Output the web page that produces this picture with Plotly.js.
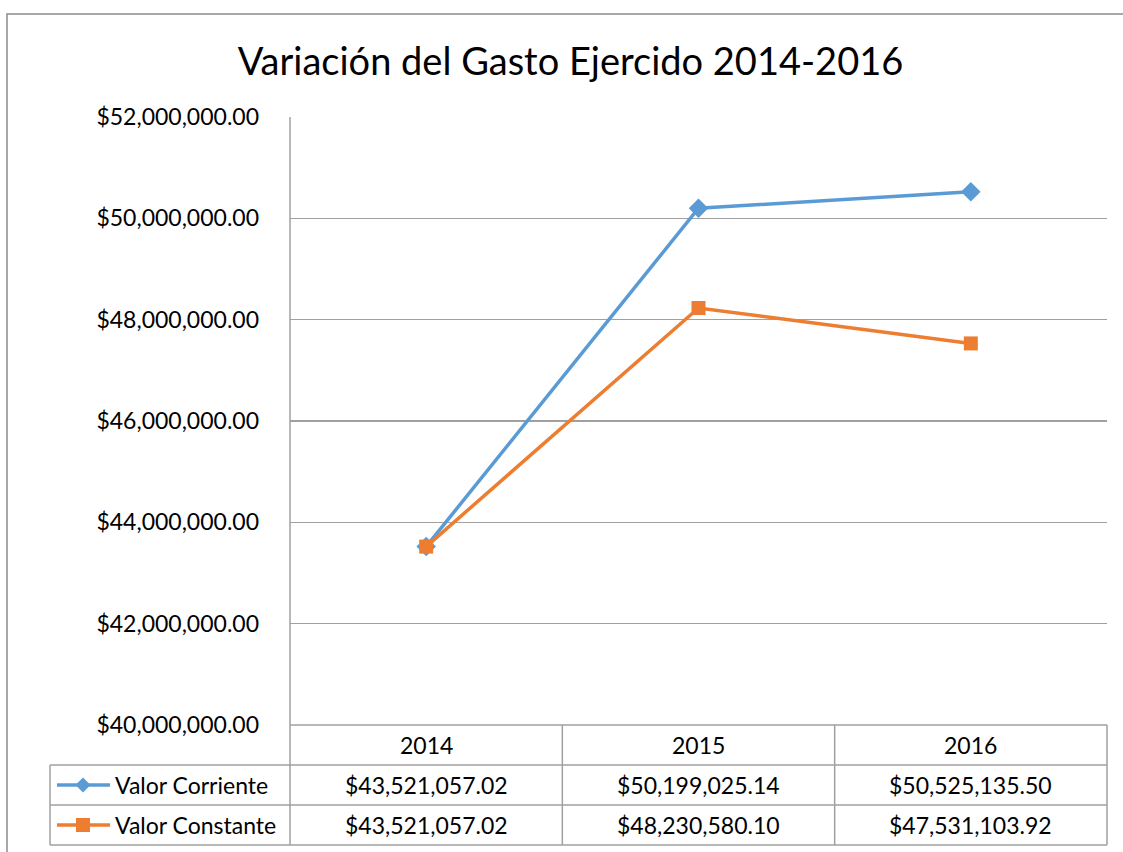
<!DOCTYPE html>
<html>
<head>
<meta charset="utf-8">
<script src="https://cdn.plot.ly/plotly-3.0.1.min.js"></script>
<style>html,body{margin:0;padding:0;background:#fff;}#chart{width:1123px;height:852px;}</style>
</head>
<body>
<div id="chart"></div>
<script>
const years = ['2014', '2015', '2016'];
const seriesNames = ['Valor Corriente', 'Valor Constante'];
const valorCorriente = [43521057.02, 50199025.14, 50525135.50];
const valorConstante = [43521057.02, 48230580.10, 47531103.92];
const yTicks = [40000000, 42000000, 44000000, 46000000, 48000000, 50000000, 52000000];

const W = 1123, H = 852;
const M = {l: 290, r: 16, t: 117, b: 127};
const pw = W - M.l - M.r, ph = H - M.t - M.b;
const px = v => (v - M.l) / pw;
const py = v => (H - M.b - v) / ph;

const FONT = 'Lato, "Open Sans", sans-serif';
const blue = '#5b9bd5', orange = '#ed7d31', grid = '#a0a0a0';
const TXT = 23;

const fmt = v => '$' + v.toLocaleString('en-US', {minimumFractionDigits: 2, maximumFractionDigits: 2});

const traces = [
  {x: years, y: valorCorriente, name: seriesNames[0], type: 'scatter', mode: 'lines+markers',
   line: {color: blue, width: 3.5}, marker: {symbol: 'diamond', size: 15, color: blue}},
  {x: years, y: valorConstante, name: seriesNames[1], type: 'scatter', mode: 'lines+markers',
   line: {color: orange, width: 3.5}, marker: {symbol: 'square', size: 14, color: orange}}
];

const rowH = 40;
const shapes = [];
const ann = [];
const line = (x0, y0, x1, y1, color, w) => shapes.push({type: 'line', xref: 'paper', yref: 'paper',
  x0: px(x0), y0: py(y0), x1: px(x1), y1: py(y1), line: {color: color, width: w}});

// outer frame
shapes.push({type: 'rect', xref: 'paper', yref: 'paper', x0: px(7), y0: py(14), x1: px(1140), y1: py(870),
  line: {color: '#8c8c8c', width: 1.5}, fillcolor: 'rgba(0,0,0,0)'});

// table grid
const tTop = H - M.b;
line(M.l, tTop, W - M.r, tTop, grid, 1.5);
line(M.l, tTop + rowH, W - M.r, tTop + rowH, grid, 1.5);
line(50, tTop + rowH, M.l, tTop + rowH, grid, 1.5);
line(50, tTop + 2 * rowH, W - M.r, tTop + 2 * rowH, grid, 1.5);
line(50, tTop + 3 * rowH, W - M.r, tTop + 3 * rowH, grid, 1.5);
line(50, tTop + rowH, 50, tTop + 3 * rowH, grid, 1.5);
line(M.l, M.t, M.l, tTop + 3 * rowH, grid, 1.5);
line(W - M.r, tTop, W - M.r, tTop + 3 * rowH, grid, 1.5);
for (let i = 0; i < years.length - 1; i++) {
  shapes.push({type: 'line', xref: 'x', yref: 'paper', x0: i + 0.5, x1: i + 0.5,
    y0: py(tTop), y1: py(tTop + 3 * rowH), line: {color: grid, width: 1.5}});
}

// header and values
const allSeries = [valorCorriente, valorConstante];
years.forEach((yr, i) => {
  ann.push({xref: 'x', yref: 'paper', x: i, y: py(tTop + rowH / 2), text: yr, showarrow: false,
    font: {family: FONT, size: TXT, color: '#000'}, xanchor: 'center', yanchor: 'middle'});
  allSeries.forEach((s, j) => {
    ann.push({xref: 'x', yref: 'paper', x: i, y: py(tTop + rowH * (j + 1.5)), text: fmt(s[i]), showarrow: false,
      font: {family: FONT, size: TXT, color: '#000'}, xanchor: 'center', yanchor: 'middle'});
  });
});

// legend keys
const colors = [blue, orange];
seriesNames.forEach((n, j) => {
  const cy = tTop + rowH * (j + 1.5);
  line(57, cy, 110, cy, colors[j], 3.5);
  const cx = 83, r = 7.5;
  let path;
  if (j === 0) {
    path = `M ${px(cx)} ${py(cy - r)} L ${px(cx + r)} ${py(cy)} L ${px(cx)} ${py(cy + r)} L ${px(cx - r)} ${py(cy)} Z`;
  } else {
    const s = 7;
    path = `M ${px(cx - s)} ${py(cy - s)} L ${px(cx + s)} ${py(cy - s)} L ${px(cx + s)} ${py(cy + s)} L ${px(cx - s)} ${py(cy + s)} Z`;
  }
  shapes.push({type: 'path', xref: 'paper', yref: 'paper', path: path, fillcolor: colors[j], line: {width: 0}});
  ann.push({xref: 'paper', yref: 'paper', x: px(113), y: py(cy), text: n, showarrow: false,
    font: {family: FONT, size: TXT, color: '#000'}, xanchor: 'left', yanchor: 'middle'});
});

const layout = {
  width: W, height: H,
  margin: M,
  paper_bgcolor: '#fff', plot_bgcolor: '#fff',
  showlegend: false,
  title: {text: 'Variación del Gasto Ejercido 2014-2016', x: 0.508, xanchor: 'center', y: 1 - 62 / H, yanchor: 'middle',
    font: {family: FONT, size: 38, color: '#000'}},
  xaxis: {type: 'category', range: [-0.5, 2.5], showticklabels: false, showgrid: false, zeroline: false,
    showline: false, ticks: ''},
  yaxis: {range: [40000000, 52000000], tickvals: yTicks, tickformat: '$,.2f', showgrid: true, gridcolor: grid,
    gridwidth: 1.5, zeroline: false, showline: false, ticks: '', ticklabelstandoff: 30,
    tickfont: {family: FONT, size: TXT, color: '#000'}},
  shapes: shapes,
  annotations: ann
};

Plotly.newPlot('chart', traces, layout, {displayModeBar: false, staticPlot: true});
</script>
</body>
</html>
